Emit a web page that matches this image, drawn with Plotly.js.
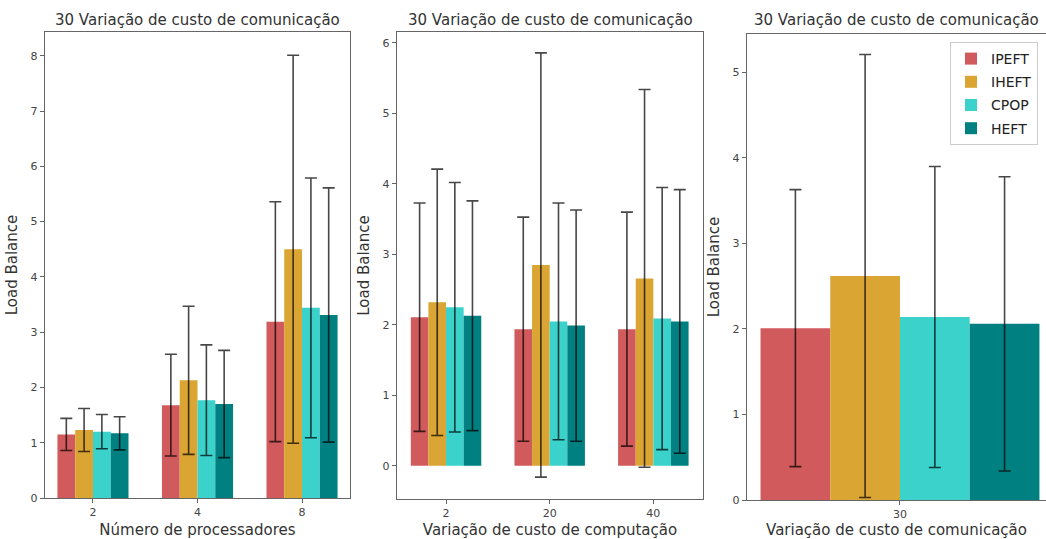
<!DOCTYPE html>
<html>
<head>
<meta charset="utf-8">
<script src="https://cdn.plot.ly/plotly-3.0.1.min.js"></script>
<style>html,body{margin:0;padding:0;overflow:hidden;background:#fff;}</style>
</head>
<body>
<div id="chart" style="width:1046px;height:539px;"></div>
<script>
// ---------- DATA ----------
const seriesNames = ["IPEFT", "IHEFT", "CPOP", "HEFT"];

// Panel 1: Número de processadores
const procCats = ["2", "4", "8"];
const procIPEFT = [1.15, 1.68, 3.19];
const procIHEFT = [1.23, 2.13, 4.50];
const procCPOP  = [1.20, 1.77, 3.44];
const procHEFT  = [1.17, 1.70, 3.31];
const procErrIPEFT = [0.29, 0.92, 2.17];
const procErrIHEFT = [0.39, 1.34, 3.51];
const procErrCPOP  = [0.31, 1.00, 2.35];
const procErrHEFT  = [0.30, 0.97, 2.30];

// Panel 2: Variação de custo de computação
const compCats = ["2", "20", "40"];
const compIPEFT = [2.11, 1.94, 1.94];
const compIHEFT = [2.32, 2.85, 2.66];
const compCPOP  = [2.25, 2.05, 2.09];
const compHEFT  = [2.13, 1.99, 2.05];
const compErrIPEFT = [1.62, 1.59, 1.66];
const compErrIHEFT = [1.89, 3.01, 2.68];
const compErrCPOP  = [1.77, 1.68, 1.86];
const compErrHEFT  = [1.63, 1.64, 1.87];

// Panel 3: Variação de custo de comunicação
const commCats = ["30"];
const commIPEFT = [2.01];
const commIHEFT = [2.62];
const commCPOP  = [2.14];
const commHEFT  = [2.06];
const commErrIPEFT = [1.62];
const commErrIHEFT = [2.59];
const commErrCPOP  = [1.76];
const commErrHEFT  = [1.72];

const panelTitle = "30 Variação de custo de comunicação";
const xTitles = ["Número de processadores", "Variação de custo de computação", "Variação de custo de comunicação"];
const yTitle = "Load Balance";

// ---------- STYLE ----------
const colors = ["#D15A5C", "#DAA532", "#3CD2CC", "#008080"];
const W = 1046, H = 539;
const FONT = "DejaVu Sans, sans-serif";

function errStyle(arr) {
  return {type: "data", array: arr, visible: true, color: "rgba(0,0,0,0.72)", thickness: 1.6, width: 6};
}

const panels = [
  {cats: procCats, vals: [procIPEFT, procIHEFT, procCPOP, procHEFT], errs: [procErrIPEFT, procErrIHEFT, procErrCPOP, procErrHEFT]},
  {cats: compCats, vals: [compIPEFT, compIHEFT, compCPOP, compHEFT], errs: [compErrIPEFT, compErrIHEFT, compErrCPOP, compErrHEFT]},
  {cats: commCats, vals: [commIPEFT, commIHEFT, commCPOP, commHEFT], errs: [commErrIPEFT, commErrIHEFT, commErrCPOP, commErrHEFT]}
];

const traces = [];
panels.forEach((p, pi) => {
  const ax = pi === 0 ? "" : String(pi + 1);
  p.vals.forEach((v, si) => {
    traces.push({
      type: "bar",
      name: seriesNames[si],
      x: p.cats,
      y: v,
      xaxis: "x" + ax,
      yaxis: "y" + ax,
      marker: {color: colors[si], line: {width: 0}},
      error_y: errStyle(p.errs[si]),
      showlegend: pi === 2,
      legendgroup: seriesNames[si],
      hoverinfo: "x+y+name"
    });
  });
});

// pixel boxes [left, right, top, bottom]
const boxes = [[45, 350, 32, 498], [397, 703, 32, 499], [747, 1046, 34, 500]];
const xRanges = [[-0.459, 2.459], [-0.473, 2.479], [-0.373, 0.356]];
const yRanges = [[0, 8.43], [-0.47, 6.156], [0, 5.45]];
const yDtick = [1, 1, 1];

const layout = {
  width: W, height: H,
  margin: {l: 0, r: 0, t: 0, b: 0},
  paper_bgcolor: "#fff", plot_bgcolor: "#fff",
  barmode: "group", bargap: 0.32, bargroupgap: 0,
  font: {family: FONT, size: 11, color: "#333"},
  showlegend: true,
  legend: {
    x: 950 / W, y: 1 - 42 / H, xanchor: "left", yanchor: "top",
    bgcolor: "rgba(255,255,255,0.85)", bordercolor: "#ccc", borderwidth: 1,
    font: {family: FONT, size: 14, color: "#222"},
    itemwidth: 30, tracegroupgap: 2
  },
  annotations: [],
  shapes: []
};

boxes.forEach((b, i) => {
  const ax = i === 0 ? "" : String(i + 1);
  layout["xaxis" + ax] = {
    type: "category",
    domain: [b[0] / W, b[1] / W],
    range: xRanges[i],
    anchor: "y" + ax,
    showgrid: false, zeroline: false,
    showline: true, linecolor: "#666", linewidth: 1.2, mirror: true,
    ticks: "outside", ticklen: 4, tickcolor: "#666", tickwidth: 1,
    tickfont: {family: FONT, size: 11, color: "#444"},
    title: {text: xTitles[i], font: {family: FONT, size: 15, color: "#333"}, standoff: 6}
  };
  layout["yaxis" + ax] = {
    domain: [1 - b[3] / H, 1 - b[2] / H],
    range: yRanges[i],
    dtick: yDtick[i], tick0: 0,
    anchor: "x" + ax,
    showgrid: false, zeroline: false,
    showline: true, linecolor: "#666", linewidth: 1.2, mirror: true,
    ticks: "outside", ticklen: 4, tickcolor: "#666", tickwidth: 1,
    tickfont: {family: FONT, size: 11, color: "#444"},
    title: {text: yTitle, font: {family: FONT, size: 15, color: "#333"}, standoff: 9}
  };
  layout.annotations.push({
    text: panelTitle, xref: "paper", yref: "paper",
    x: (b[0] + b[1]) / 2 / W, y: 1 - 31 / H, xanchor: "center", yanchor: "bottom",
    showarrow: false, font: {family: FONT, size: 15, color: "#333"}
  });
});

Plotly.newPlot("chart", traces, layout, {displayModeBar: false, staticPlot: true});
</script>
</body>
</html>
